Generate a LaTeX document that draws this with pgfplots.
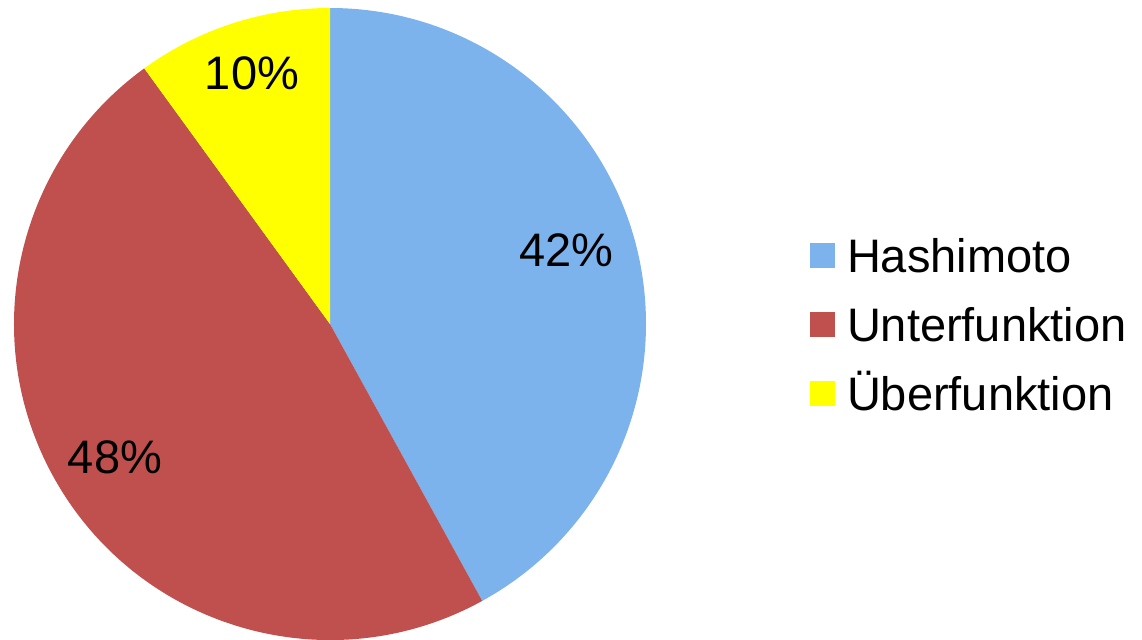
\documentclass[border=0pt]{standalone}
\usepackage{fontspec}
\setmainfont{Liberation Sans}
\usepackage{pgfplots}
\usepackage{pgfplotstable}
\pgfplotsset{compat=1.18}
\definecolor{hashblue}{RGB}{125,179,236}
\definecolor{unterred}{RGB}{192,80,77}
\definecolor{ueberyellow}{RGB}{255,255,0}
% values in percent
\def\vA{42}\def\vB{48}\def\vC{10}
\begin{document}
\begin{tikzpicture}
\pgfmathsetmacro\aS{90}
\pgfmathsetmacro\aA{\aS-3.6*\vA}
\pgfmathsetmacro\aB{\aA-3.6*\vB}
\pgfmathsetmacro\aC{\aB-3.6*\vC}
\begin{axis}[
  hide axis,
  x=0.5pt, y=0.5pt,
  xmin=0, xmax=1142, ymin=0, ymax=639,
  font=\fontsize{23.5}{28}\selectfont,
  legend image code/.code={\fill[#1,draw=none] (0pt,-6.25pt) rectangle (12.5pt,6.25pt);},
  legend cell align=left,
  legend style={draw=none, fill=none, at={(axis cs:810,406)}, anchor=north west,
    inner sep=0pt, outer sep=0pt, column sep=6pt, row sep=12pt,
    nodes={inner sep=0pt, outer sep=0pt, text height=19.5pt, text depth=3pt},
    font=\fontsize{23.5}{28}\selectfont},
]
\addlegendimage{fill=hashblue,draw=none}\addlegendentry{Hashimoto}
\addlegendimage{fill=unterred,draw=none}\addlegendentry{Unterfunktion}
\addlegendimage{fill=ueberyellow,draw=none}\addlegendentry{Überfunktion}
\fill[hashblue] (axis cs:330,315) -- (axis cs:{330+316*cos(\aS)},{315+316*sin(\aS)}) arc[start angle=\aS, end angle=\aA, radius=158pt] -- cycle;
\fill[unterred] (axis cs:330,315) -- (axis cs:{330+316*cos(\aA)},{315+316*sin(\aA)}) arc[start angle=\aA, end angle=\aB, radius=158pt] -- cycle;
\fill[ueberyellow] (axis cs:330,315) -- (axis cs:{330+316*cos(\aB)},{315+316*sin(\aB)}) arc[start angle=\aB, end angle=\aC, radius=158pt] -- cycle;
\node at (axis cs:566.5,389) {42\%};
\node at (axis cs:115,181.5) {48\%};
\node at (axis cs:252,565.5) {10\%};
\coordinate (bbl) at (axis cs:0,0);
\coordinate (btr) at (axis cs:1142,639);
\end{axis}
\pgfresetboundingbox
\path[use as bounding box] (bbl) rectangle (btr);
\end{tikzpicture}
\end{document}
